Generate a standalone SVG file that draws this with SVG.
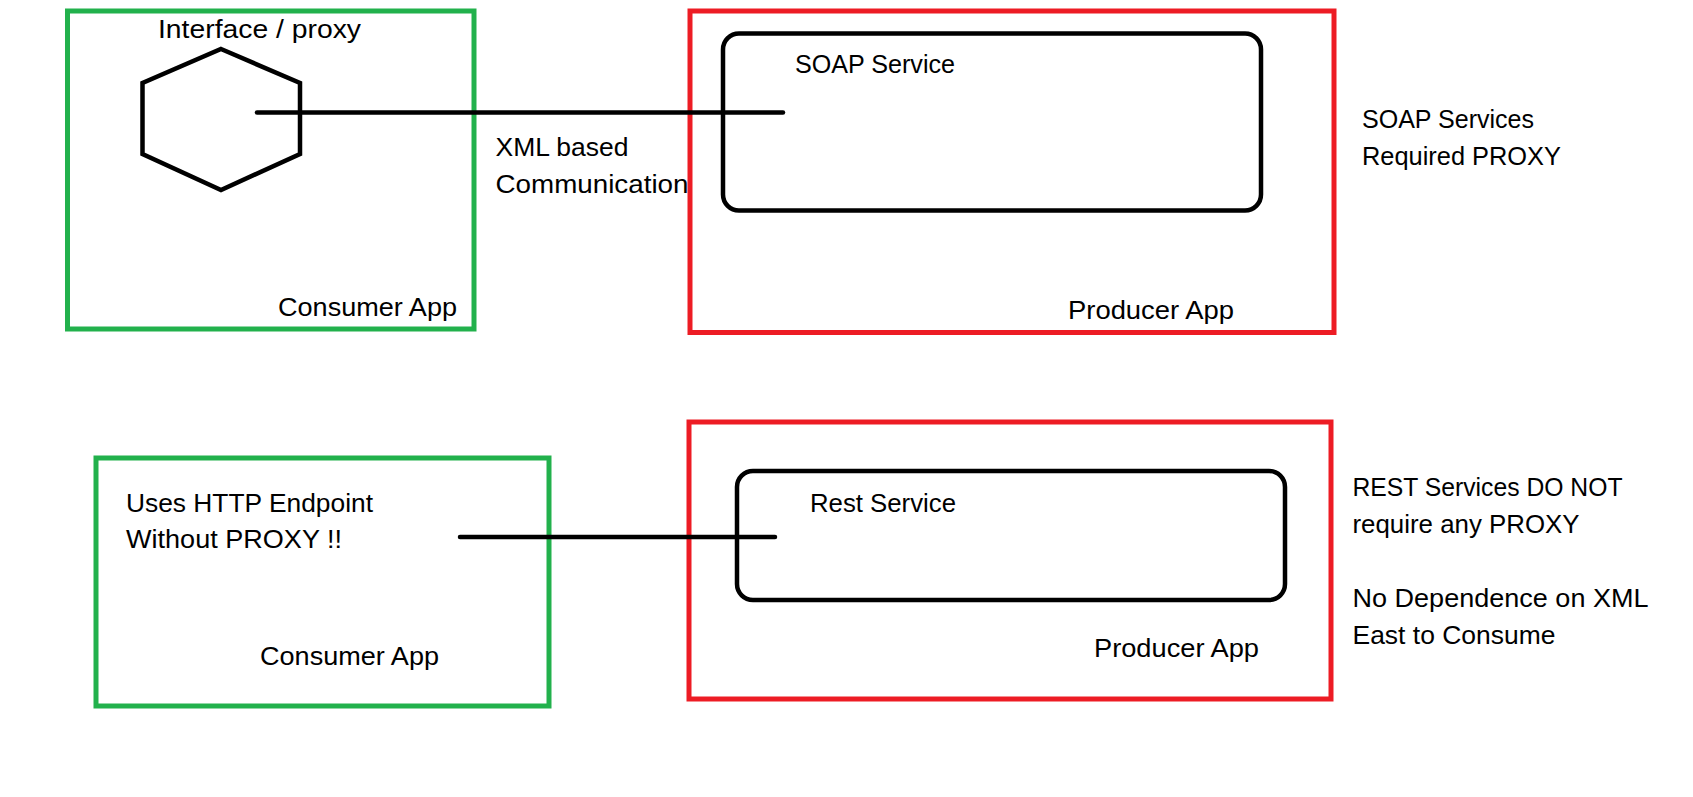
<svg xmlns="http://www.w3.org/2000/svg" width="1693" height="797" viewBox="0 0 1693 797">
<style>
text{font-family:"Liberation Sans",Arial,sans-serif;font-size:26px;fill:#000}
.g{fill:none;stroke:#22B14C;stroke-width:5}
.r{fill:none;stroke:#ED1C24;stroke-width:5}
.k{fill:none;stroke:#000;stroke-width:4.5}
.c{stroke:#000;stroke-width:4.5;stroke-linecap:round;fill:none}
</style>
<rect width="1693" height="797" fill="#fff"/>
<g id="consumer1">
<rect class="g" x="67.5" y="11" width="406.5" height="318"/>
<text x="278" y="316" textLength="179" lengthAdjust="spacingAndGlyphs">Consumer App</text>
</g>
<g id="proxy">
<polygon class="k" points="221,49 300,83 300,154 221,190 142.5,154 142.5,83"/>
<text x="158" y="38" textLength="203" lengthAdjust="spacingAndGlyphs">Interface / proxy</text>
</g>
<g id="producer1">
<rect class="r" x="690" y="11" width="644" height="321.5"/>
<text x="1068" y="318.5" textLength="166" lengthAdjust="spacingAndGlyphs">Producer App</text>
</g>
<g id="soap">
<rect class="k" x="723" y="33.5" width="538" height="177" rx="16"/>
<text x="795" y="72.5" textLength="160" lengthAdjust="spacingAndGlyphs">SOAP Service</text>
</g>
<g id="note1">
<text x="1362" y="127.5" textLength="172" lengthAdjust="spacingAndGlyphs">SOAP Services</text>
<text x="1362" y="164.5" textLength="199" lengthAdjust="spacingAndGlyphs">Required PROXY</text>
</g>
<g id="consumer2">
<rect class="g" x="96" y="458" width="453" height="248"/>
<text x="126" y="511.5" textLength="247" lengthAdjust="spacingAndGlyphs">Uses HTTP Endpoint</text>
<text x="126" y="548" textLength="216" lengthAdjust="spacingAndGlyphs">Without PROXY !!</text>
<text x="260" y="665" textLength="179" lengthAdjust="spacingAndGlyphs">Consumer App</text>
</g>
<g id="producer2">
<rect class="r" x="689" y="422" width="642" height="277"/>
<text x="1094" y="657" textLength="165" lengthAdjust="spacingAndGlyphs">Producer App</text>
</g>
<g id="rest">
<rect class="k" x="737" y="471" width="548" height="129" rx="16"/>
<text x="810" y="511.5" textLength="146" lengthAdjust="spacingAndGlyphs">Rest Service</text>
</g>
<g id="note2">
<text x="1352.5" y="495.5" textLength="270" lengthAdjust="spacingAndGlyphs">REST Services DO NOT</text>
<text x="1352.5" y="533" textLength="227" lengthAdjust="spacingAndGlyphs">require any PROXY</text>
<text x="1352.5" y="607" textLength="296" lengthAdjust="spacingAndGlyphs">No Dependence on XML</text>
<text x="1352.5" y="644" textLength="203" lengthAdjust="spacingAndGlyphs">East to Consume</text>
</g>
<g id="connectors">
<line class="c" x1="257" y1="112.5" x2="783" y2="112.5"/>
<text x="495.5" y="155.5" textLength="133" lengthAdjust="spacingAndGlyphs">XML based</text>
<text x="495.5" y="193" textLength="193" lengthAdjust="spacingAndGlyphs">Communication</text>
<line class="c" x1="460" y1="537" x2="775" y2="537"/>
</g>
</svg>
